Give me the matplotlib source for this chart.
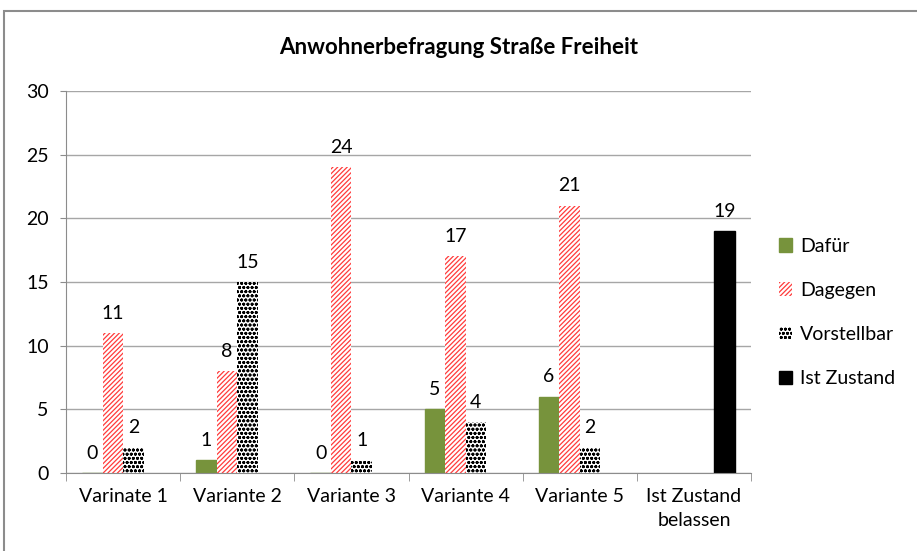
import numpy as np
import matplotlib.pyplot as plt
from matplotlib.patches import Rectangle

plt.rcParams['font.family'] = ['Lato', 'DejaVu Sans']
plt.rcParams['hatch.linewidth'] = 0.9

# Daten
kategorien = ['Varinate 1', 'Variante 2', 'Variante 3', 'Variante 4', 'Variante 5', 'Ist Zustand\nbelassen']
dafuer = [0, 1, 0, 5, 6, np.nan]
dagegen = [11, 8, 24, 17, 21, np.nan]
vorstellbar = [2, 15, 1, 4, 2, np.nan]
ist_zustand = [np.nan, np.nan, np.nan, np.nan, np.nan, 19]

fig = plt.figure(figsize=(9.17, 5.51), dpi=100)
ax = fig.add_axes([0.072, 0.1416, 0.747, 0.6934])

# Rahmen des Diagrammbereichs
fig.patches.append(Rectangle((4 / 917, -0.1), 1.2, 1 - 11 / 551 + 0.1, transform=fig.transFigure,
                             fill=False, edgecolor='#8c8c8c', linewidth=1.5))

x = np.arange(len(kategorien))
w = 0.18
serien = [
    ('Dafür', dafuer, dict(color='#77933c', edgecolor='#77933c')),
    ('Dagegen', dagegen, dict(facecolor='white', edgecolor='#ff3b3b', hatch='///////', linewidth=0)),
    ('Vorstellbar', vorstellbar, dict(facecolor='white', edgecolor='black', hatch='oooo', linewidth=0)),
    ('Ist Zustand', ist_zustand, dict(color='black', edgecolor='black')),
]

for i, (name, werte, stil) in enumerate(serien):
    pos = x + (i - 1.5) * w
    bars = ax.bar(pos, werte, w, label=name, **stil)
    for p, v in zip(pos, werte):
        if not np.isnan(v):
            ax.annotate(f'{v:g}', (p, v), xytext=(0, 8), textcoords='offset points',
                        ha='center', va='bottom', fontsize=14)

ax.set_ylim(0, 30)
ax.set_yticks(range(0, 31, 5))
ax.set_xlim(-0.5, len(kategorien) - 0.5)
ax.set_xticks(x)
ax.set_xticklabels(kategorien, fontsize=14, linespacing=1.45)
ax.set_xticks(np.arange(-0.5, len(kategorien)), minor=True)
ax.tick_params(axis='x', which='major', length=0, pad=11)
ax.tick_params(axis='x', which='minor', length=6, color='#8c8c8c')
ax.tick_params(axis='y', labelsize=14, length=4.5, color='#8c8c8c', pad=8)
ax.yaxis.grid(True, color='#a6a6a6', linewidth=1)
ax.set_axisbelow(True)
for s in ['top', 'right']:
    ax.spines[s].set_visible(False)
for s in ['left', 'bottom']:
    ax.spines[s].set_color('#8c8c8c')

fig.text(0.5, 1 - 47 / 551, 'Anwohnerbefragung Straße Freiheit', ha='center', va='center',
         fontsize=16, fontweight='bold')

ax.legend(loc='center left', bbox_to_anchor=(1.015, 0.42), frameon=False, fontsize=14,
          handlelength=0.7, handleheight=0.7, labelspacing=1.4, handletextpad=0.4)

fig.savefig('out.png', dpi=100)
